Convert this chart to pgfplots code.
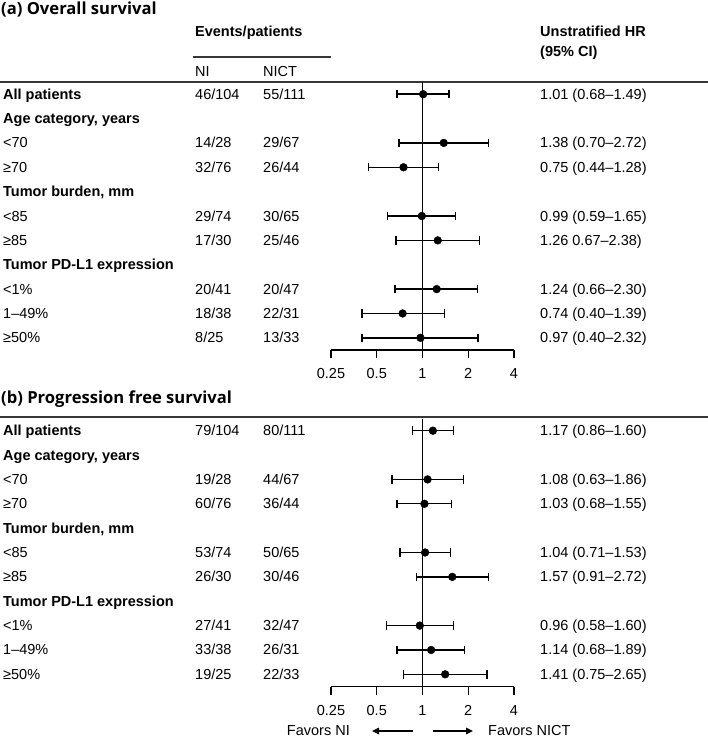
\documentclass[border=0pt]{standalone}
\usepackage{pgfplots}
\pgfplotsset{compat=1.18}
\usepackage{pgfplotstable}
\usepackage{fontspec}
\setmainfont{Liberation Sans}
\newfontfamily\titlefont{Open Sans}
\usetikzlibrary{arrows.meta}

\newcommand\fs{\fontsize{14.5}{17}\selectfont}
\newcommand\tfs{\titlefont\bfseries\fontsize{16.6}{19}\selectfont}
\definecolor{rule}{RGB}{55,55,55}

\pgfplotstableread{
row hr
0 1.01
2 1.38
3 0.75
5 0.99
6 1.26
8 1.24
9 0.74
10 0.97
}\osdata
\pgfplotstableread{
row hr
0 1.17
2 1.08
3 1.03
5 1.04
6 1.57
8 0.96
9 1.14
10 1.41
}\pfsdata

\newcommand\trow[5]{%
  \node[anchor=base west,inner sep=0] at (3,#1+5) {#2};
  \node[anchor=base west,inner sep=0] at (195,#1+5) {#3};
  \node[anchor=base west,inner sep=0] at (263,#1+5) {#4};
  \node[anchor=base west,inner sep=0] at (540,#1+5) {#5};}

\begin{document}
\fs
\begin{tikzpicture}[x=1pt,y=-1pt]
\useasboundingbox (0,0) rectangle (708,737);

% ---------- Panel (a)
\node[anchor=base west,inner sep=0,font=\tfs] at (1,14) {(a) Overall survival};
\node[anchor=base west,inner sep=0] at (195,36.5) {\textbf{Events/patients}};
\node[anchor=base west,inner sep=0] at (540,36.5) {\textbf{Unstratified HR}};
\node[anchor=base west,inner sep=0] at (540,56) {\textbf{(95\% CI)}};
\draw[rule,line width=1.4pt] (193,57) -- (331,57);
\node[anchor=base west,inner sep=0] at (195,76) {NI};
\node[anchor=base west,inner sep=0] at (263,76) {NICT};
\draw[rule,line width=1.5pt] (0,82) -- (708,82);

\begin{axis}[
    at={(331pt,-82pt)}, anchor=north west,
    scale only axis, width=183pt, height=268pt,
    xmode=log, log basis x=2, xmin=0.25, xmax=4,
    ymin=-0.5, ymax=10.5, y dir=reverse,
    axis x line*=bottom, axis y line=none,
    xtick={0.25,0.5,1,2,4}, xticklabels={0.25,0.5,1,2,4},
    tick align=outside, major tick length=8pt,
    x axis line style={line width=1.4pt},
    every tick/.style={black, line width=1.4pt},
    xticklabel style={font=\fs, text=black, anchor=base, yshift=-20.5pt},
    clip=false]
  \addplot[black, line width=1.7pt] coordinates {(1,-0.5) (1,10.5)};
  \addplot[black, line width=1.4pt, mark=|, mark size=4.2pt] coordinates {(0.68,0) (1.49,0)};
  \addplot[black, line width=1.4pt, mark=|, mark size=4.2pt] coordinates {(0.70,2) (2.72,2)};
  \addplot[black, line width=1.4pt, mark=|, mark size=4.2pt] coordinates {(0.44,3) (1.28,3)};
  \addplot[black, line width=1.4pt, mark=|, mark size=4.2pt] coordinates {(0.59,5) (1.65,5)};
  \addplot[black, line width=1.4pt, mark=|, mark size=4.2pt] coordinates {(0.67,6) (2.38,6)};
  \addplot[black, line width=1.4pt, mark=|, mark size=4.2pt] coordinates {(0.66,8) (2.30,8)};
  \addplot[black, line width=1.4pt, mark=|, mark size=4.2pt] coordinates {(0.40,9) (1.39,9)};
  \addplot[black, line width=1.4pt, mark=|, mark size=4.2pt] coordinates {(0.40,10) (2.32,10)};
  \addplot[only marks, mark=*, mark size=3.9pt, black] table[x=hr, y=row] {\osdata};
\end{axis}

\trow{94.2}{\textbf{All patients}}{46/104}{55/111}{1.01 (0.68–1.49)}
\trow{118.6}{\textbf{Age category, years}}{}{}{}
\trow{142.9}{<70}{14/28}{29/67}{1.38 (0.70–2.72)}
\trow{167.3}{≥70}{32/76}{26/44}{0.75 (0.44–1.28)}
\trow{191.6}{\textbf{Tumor burden, mm}}{}{}{}
\trow{216.0}{<85}{29/74}{30/65}{0.99 (0.59–1.65)}
\trow{240.4}{≥85}{17/30}{25/46}{1.26 0.67–2.38)}
\trow{264.7}{\textbf{Tumor PD-L1 expression}}{}{}{}
\trow{289.1}{<1\%}{20/41}{20/47}{1.24 (0.66–2.30)}
\trow{313.4}{1–49\%}{18/38}{22/31}{0.74 (0.40–1.39)}
\trow{337.8}{≥50\%}{8/25}{13/33}{0.97 (0.40–2.32)}

% ---------- Panel (b)
\node[anchor=base west,inner sep=0,font=\tfs] at (1,403) {(b) Progression free survival};
\draw[rule,line width=1.5pt] (0,417) -- (708,417);

\begin{axis}[
    at={(331pt,-418.5pt)}, anchor=north west,
    scale only axis, width=183pt, height=268pt,
    xmode=log, log basis x=2, xmin=0.25, xmax=4,
    ymin=-0.5, ymax=10.5, y dir=reverse,
    axis x line*=bottom, axis y line=none,
    xtick={0.25,0.5,1,2,4}, xticklabels={0.25,0.5,1,2,4},
    tick align=outside, major tick length=8pt,
    x axis line style={line width=1.4pt},
    every tick/.style={black, line width=1.4pt},
    xticklabel style={font=\fs, text=black, anchor=base, yshift=-20.5pt},
    clip=false]
  \addplot[black, line width=1.7pt] coordinates {(1,-0.5) (1,10.5)};
  \addplot[black, line width=1.4pt, mark=|, mark size=4.2pt] coordinates {(0.86,0) (1.60,0)};
  \addplot[black, line width=1.4pt, mark=|, mark size=4.2pt] coordinates {(0.63,2) (1.86,2)};
  \addplot[black, line width=1.4pt, mark=|, mark size=4.2pt] coordinates {(0.68,3) (1.55,3)};
  \addplot[black, line width=1.4pt, mark=|, mark size=4.2pt] coordinates {(0.71,5) (1.53,5)};
  \addplot[black, line width=1.4pt, mark=|, mark size=4.2pt] coordinates {(0.91,6) (2.72,6)};
  \addplot[black, line width=1.4pt, mark=|, mark size=4.2pt] coordinates {(0.58,8) (1.60,8)};
  \addplot[black, line width=1.4pt, mark=|, mark size=4.2pt] coordinates {(0.68,9) (1.89,9)};
  \addplot[black, line width=1.4pt, mark=|, mark size=4.2pt] coordinates {(0.75,10) (2.65,10)};
  \addplot[only marks, mark=*, mark size=3.9pt, black] table[x=hr, y=row] {\pfsdata};
\end{axis}

\trow{430.7}{\textbf{All patients}}{79/104}{80/111}{1.17 (0.86–1.60)}
\trow{455.1}{\textbf{Age category, years}}{}{}{}
\trow{479.4}{<70}{19/28}{44/67}{1.08 (0.63–1.86)}
\trow{503.8}{≥70}{60/76}{36/44}{1.03 (0.68–1.55)}
\trow{528.1}{\textbf{Tumor burden, mm}}{}{}{}
\trow{552.5}{<85}{53/74}{50/65}{1.04 (0.71–1.53)}
\trow{576.9}{≥85}{26/30}{30/46}{1.57 (0.91–2.72)}
\trow{601.2}{\textbf{Tumor PD-L1 expression}}{}{}{}
\trow{625.6}{<1\%}{27/41}{32/47}{0.96 (0.58–1.60)}
\trow{649.9}{1–49\%}{33/38}{26/31}{1.14 (0.68–1.89)}
\trow{674.3}{≥50\%}{19/25}{22/33}{1.41 (0.75–2.65)}

% ---------- Favors
\node[anchor=base east,inner sep=0] at (350,735) {Favors NI};
\draw[black,line width=1.4pt,-{Triangle[length=7pt,width=6.5pt]}] (413,731) -- (372,731);
\draw[black,line width=1.4pt,-{Triangle[length=7pt,width=6.5pt]}] (433,731) -- (473,731);
\node[anchor=base west,inner sep=0] at (488,735) {Favors NICT};
\end{tikzpicture}
\end{document}
